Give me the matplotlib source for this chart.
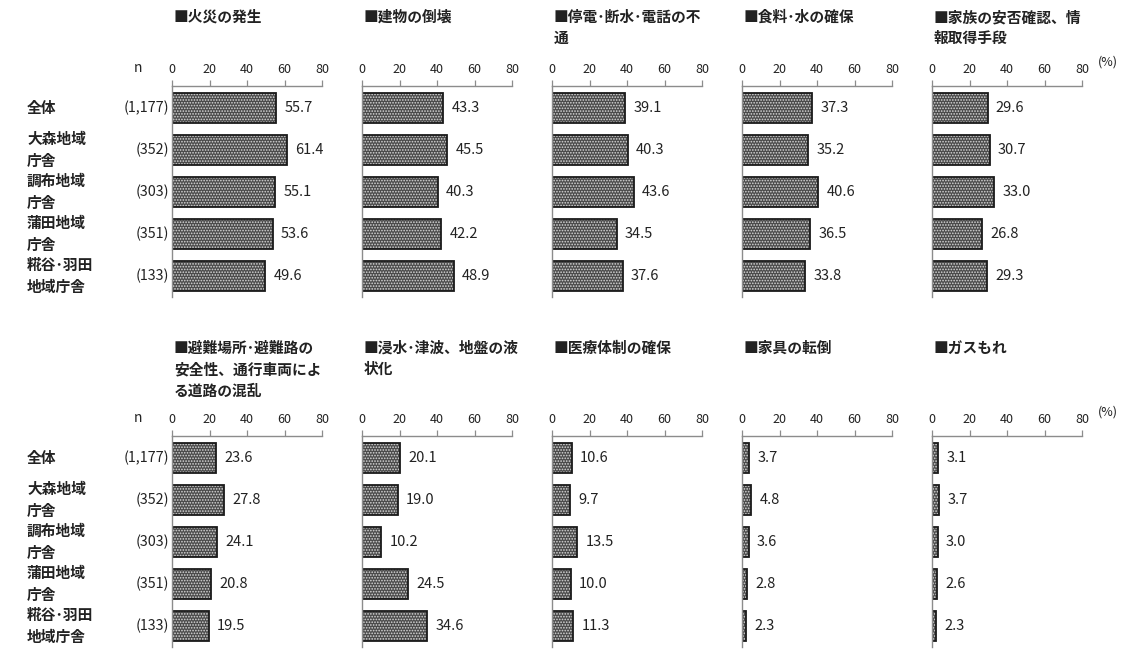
import matplotlib
matplotlib.use("Agg")
import matplotlib.pyplot as plt
from matplotlib.transforms import blended_transform_factory

plt.rcParams['font.family'] = ['Noto Sans CJK JP', 'DejaVu Sans']
plt.rcParams['hatch.linewidth'] = 0.8

categories = ["全体", "大森地域\n庁舎", "調布地域\n庁舎", "蒲田地域\n庁舎", "糀谷･羽田\n地域庁舎"]
n_labels = ["(1,177)", "(352)", "(303)", "(351)", "(133)"]

titles_top = ["■火災の発生", "■建物の倒壊", "■停電･断水･電話の不\n通", "■食料･水の確保",
              "■家族の安否確認、情\n報取得手段"]
values_top = [
    [55.7, 61.4, 55.1, 53.6, 49.6],
    [43.3, 45.5, 40.3, 42.2, 48.9],
    [39.1, 40.3, 43.6, 34.5, 37.6],
    [37.3, 35.2, 40.6, 36.5, 33.8],
    [29.6, 30.7, 33.0, 26.8, 29.3],
]
titles_bottom = ["■避難場所･避難路の\n安全性、通行車両によ\nる道路の混乱", "■浸水･津波、地盤の液\n状化",
                 "■医療体制の確保", "■家具の転倒", "■ガスもれ"]
values_bottom = [
    [23.6, 27.8, 24.1, 20.8, 19.5],
    [20.1, 19.0, 10.2, 24.5, 34.6],
    [10.6, 9.7, 13.5, 10.0, 11.3],
    [3.7, 4.8, 3.6, 2.8, 2.3],
    [3.1, 3.7, 3.0, 2.6, 2.3],
]
xticks = [0, 20, 40, 60, 80]

W, H = 1129, 649
fig = plt.figure(figsize=(W / 100, H / 100), dpi=100)

lefts = [172, 362, 552, 742, 932]
pw = 150
rows = [
    dict(titles=titles_top, values=values_top, top=86, bottom=297, title_y=9),
    dict(titles=titles_bottom, values=values_bottom, top=436, bottom=647, title_y=340),
]
txt_color = '#222222'
spine_color = '#8c8c8c'

for row in rows:
    for i, (title, vals) in enumerate(zip(row['titles'], row['values'])):
        ax = fig.add_axes([lefts[i] / W, 1 - row['bottom'] / H, pw / W, (row['bottom'] - row['top']) / H])
        y = list(range(len(categories)))
        ax.barh(y, vals, height=0.71, color='#4a4a4a', edgecolor='#d8d8d8', linewidth=0, hatch='......')
        ax.barh(y, vals, height=0.71, fill=False, edgecolor='#1a1a1a', linewidth=1.3)
        ax.set_xlim(0, 80)
        ax.set_ylim(4.5, -0.52)
        ax.set_xticks(xticks)
        ax.xaxis.tick_top()
        ax.tick_params(axis='x', direction='out', length=4, width=0.9, color=spine_color,
                       labelsize=9, labelcolor=txt_color, pad=3)
        ax.set_yticks([])
        for s in ['bottom', 'right']:
            ax.spines[s].set_visible(False)
        for s in ['top', 'left']:
            ax.spines[s].set_color(spine_color)
            ax.spines[s].set_linewidth(1.0)
        for yy, v in zip(y, vals):
            ax.annotate(f"{v:.1f}", (v, yy), xytext=(6, 0), textcoords='offset points',
                        va='center', ha='left', fontsize=10.5, color=txt_color)
        fig.text((lefts[i] + 2) / W, 1 - row['title_y'] / H, title, ha='left', va='top',
                 fontsize=10.6, fontweight='bold', color=txt_color, linespacing=1.4)
        if i == 0:
            tr = blended_transform_factory(fig.transFigure, ax.transData)
            for yy, (c, nl) in enumerate(zip(categories, n_labels)):
                ax.text(27 / W, yy, c, transform=tr, ha='left', va='center', fontsize=10.6,
                        fontweight='bold', color=txt_color, linespacing=1.5)
                ax.text(169 / W, yy, nl, transform=tr, ha='right', va='center', fontsize=10.3,
                        color=txt_color)
            fig.text(138 / W, 1 - (row['top'] - 18) / H, "n", ha='center', va='center',
                     fontsize=10, color=txt_color)
        if i == 4:
            fig.text(1108 / W, 1 - (row['top'] - 24) / H, "(%)", ha='center', va='center',
                     fontsize=9, color=txt_color)

fig.savefig("out.png", dpi=100)
